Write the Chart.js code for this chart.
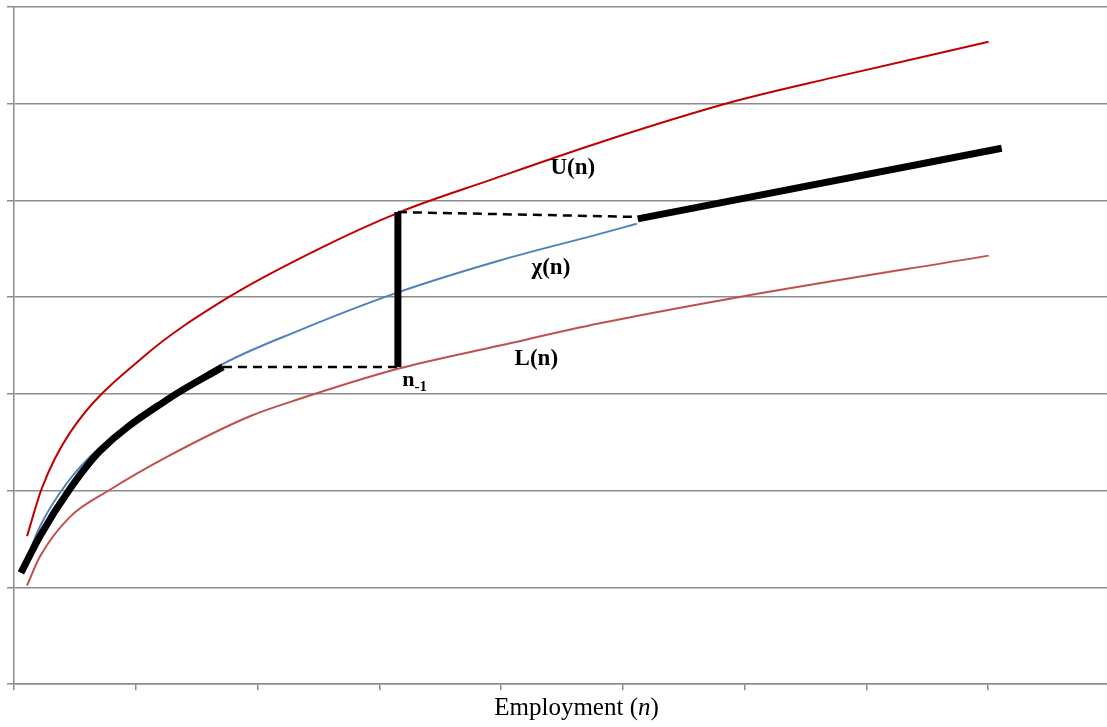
<!DOCTYPE html>
<html>
<head>
<meta charset="utf-8">
<script src="https://cdn.jsdelivr.net/npm/chart.js@4.4.1/dist/chart.umd.min.js"></script>
<style>
  html, body { margin: 0; padding: 0; background: #fff; overflow: hidden; }
  #wrap { width: 1107px; height: 727px; overflow: hidden; }
</style>
</head>
<body>
<div id="wrap"><canvas id="chart" width="1139" height="727"></canvas></div>
<script>
// upper bound U(n)
const upperN = [0.107, 0.230, 0.460, 1.059, 1.749, 2.488, 3.169, 3.908, 4.811, 5.903, 6.724, 8.005];
const upperY = [1.53, 2.03, 2.60, 3.38, 3.99, 4.49, 4.88, 5.21, 5.60, 6.02, 6.27, 6.64];

// chi(n)
const chiN = [0.090, 0.213, 0.435, 0.706, 1.117, 1.716, 2.348, 3.153, 3.990, 4.811, 5.115];
const chiY = [1.25, 1.63, 2.08, 2.45, 2.83, 3.31, 3.66, 4.05, 4.38, 4.655, 4.76];

// lower bound L(n)
const lowerN = [0.107, 0.213, 0.460, 0.788, 1.256, 1.938, 2.348, 3.153, 3.990, 4.811, 5.903, 8.005];
const lowerY = [1.02, 1.32, 1.73, 2.01, 2.35, 2.77, 2.95, 3.26, 3.50, 3.73, 3.99, 4.43];

// employment path: follows chi, holds at n-1, jumps, then rises again
const pathLowN = [0.057, 0.213, 0.460, 0.706, 1.256, 1.716];
const pathLowY = [1.15, 1.53, 2.02, 2.41, 2.94, 3.28];
const holdLowN = [1.716, 3.153];
const holdLowY = [3.28, 3.28];
const jumpN = [3.153, 3.153];
const jumpY = [3.28, 4.88];
const holdHighN = [3.153, 5.123];
const holdHighY = [4.88, 4.83];
const pathHighN = [5.123, 8.112];
const pathHighY = [4.81, 5.54];

const xMax = 9.24;
const yMax = 7;

const pts = (xs, ys) => xs.map((x, i) => ({ x: x, y: ys[i] }));

const serif = '"Liberation Serif", "Times New Roman", serif';

// curve names written next to the lines
const curveNames = [
  { text: 'U(n)', n: 4.59, v: 5.34 },
  { text: '\u03c7(n)', n: 4.41, v: 4.30 },
  { text: 'L(n)', n: 4.29, v: 3.36 }
];

const notes = {
  id: 'notes',
  afterDatasetsDraw(chart) {
    const ctx = chart.ctx;
    const xs = chart.scales.x, ys = chart.scales.y;
    ctx.save();
    ctx.fillStyle = '#000';
    ctx.textBaseline = 'middle';
    ctx.textAlign = 'center';
    ctx.font = 'bold 23px ' + serif;
    curveNames.forEach(c => {
      ctx.fillText(c.text, xs.getPixelForValue(c.n), ys.getPixelForValue(c.v));
    });

    // n with subscript -1, under the foot of the jump
    const nx = xs.getPixelForValue(3.24), ny = ys.getPixelForValue(3.14);
    ctx.font = 'bold 22px ' + serif;
    ctx.fillText('n', nx, ny);
    ctx.textAlign = 'left';
    ctx.font = 'bold 15px ' + serif;
    ctx.fillText('-1', nx + 6, ny + 7);

    // axis title with italic n
    const size = 25;
    const cx = (xs.left + xs.right) / 2;
    const ty = xs.bottom - 4 - 24 * 1.2 / 2;
    const a = 'Employment (', b = 'n', c = ')';
    ctx.font = size + 'px ' + serif;
    const wa = ctx.measureText(a).width, wc = ctx.measureText(c).width;
    ctx.font = 'italic ' + size + 'px ' + serif;
    const wb = ctx.measureText(b).width;
    const x0 = cx - (wa + wb + wc) / 2;
    ctx.textAlign = 'left';
    ctx.font = size + 'px ' + serif;
    ctx.fillText(a, x0, ty);
    ctx.font = 'italic ' + size + 'px ' + serif;
    ctx.fillText(b, x0 + wa, ty);
    ctx.font = size + 'px ' + serif;
    ctx.fillText(c, x0 + wa + wb, ty);
    ctx.restore();
  }
};

const thick = { borderColor: '#000', borderWidth: 7, borderCapStyle: 'butt', borderJoinStyle: 'round' };
const dashed = { borderColor: '#000', borderWidth: 2.5, borderDash: [9, 6] };

new Chart(document.getElementById('chart'), {
  type: 'scatter',
  data: {
    datasets: [
      Object.assign({ data: pts(pathLowN, pathLowY), cubicInterpolationMode: 'monotone' }, thick),
      Object.assign({ data: pts(jumpN, jumpY) }, thick),
      Object.assign({ data: pts(pathHighN, pathHighY) }, thick),
      Object.assign({ data: pts(holdLowN, holdLowY) }, dashed),
      Object.assign({ data: pts(holdHighN, holdHighY) }, dashed),
      { data: pts(upperN, upperY), borderColor: '#C00000', borderWidth: 2, cubicInterpolationMode: 'monotone' },
      { data: pts(chiN, chiY), borderColor: '#4F81BD', borderWidth: 2, cubicInterpolationMode: 'monotone' },
      { data: pts(lowerN, lowerY), borderColor: '#C0504D', borderWidth: 2, cubicInterpolationMode: 'monotone' }
    ]
  },
  options: {
    responsive: false,
    animation: false,
    showLine: true,
    layout: { padding: { top: 7, left: 7, right: 0, bottom: 0 } },
    elements: { point: { radius: 0, hoverRadius: 0 } },
    plugins: { legend: { display: false }, tooltip: { enabled: false } },
    scales: {
      x: {
        type: 'linear', min: 0, max: xMax,
        ticks: { display: false, stepSize: 1 },
        grid: { drawOnChartArea: false, drawTicks: true, tickLength: 6, color: '#8c8c8c', lineWidth: 1.5 },
        border: { color: '#8c8c8c', width: 1.5 },
        title: { display: true, text: 'Employment (n)', color: 'rgba(0,0,0,0)', font: { family: serif, size: 24 }, padding: { top: 4, bottom: 4 } }
      },
      y: {
        type: 'linear', min: 0, max: yMax,
        ticks: { display: false, stepSize: 1 },
        grid: { color: '#8c8c8c', lineWidth: 1.5, tickLength: 7 },
        border: { color: '#8c8c8c', width: 1.5 }
      }
    }
  },
  plugins: [notes]
});
</script>
</body>
</html>
